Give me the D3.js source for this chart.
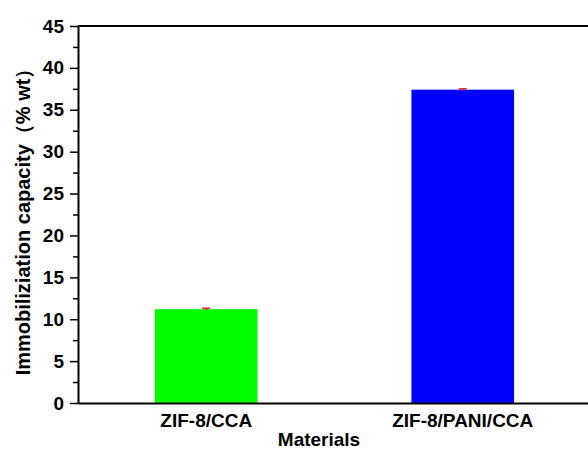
<!DOCTYPE html>
<html>
<head>
<meta charset="utf-8">
<script src="https://cdn.jsdelivr.net/npm/d3@7"></script>
<style>
  body { margin: 0; background: #fff; }
  text { font-family: "Liberation Sans", Arial, sans-serif; font-weight: bold; }
</style>
</head>
<body>
<div id="chart"></div>
<script>
const materials = ["ZIF-8/CCA", "ZIF-8/PANI/CCA"];
const capacity = [11.2, 37.4];
const capacityErr = [0.12, 0.1];
const barColors = ["#00ff00", "#0000ff"];
const yTicks = [0, 5, 10, 15, 20, 25, 30, 35, 40, 45];

const width = 588, height = 450;
const margin = { top: 26, right: 0, bottom: 47, left: 78 };
const font = "'Liberation Sans', Arial, sans-serif";

const svg = d3.select("#chart")
  .append("svg")
  .attr("width", width)
  .attr("height", height);

const x = d3.scaleBand()
  .domain(materials)
  .range([margin.left, 591])
  .paddingInner(0.6)
  .paddingOuter(0.3);

const y = d3.scaleLinear()
  .domain([0, 45])
  .range([height - margin.bottom, margin.top]);

// bars
svg.selectAll(".bar")
  .data(materials)
  .enter().append("rect")
  .attr("class", "bar")
  .attr("x", d => x(d))
  .attr("width", x.bandwidth())
  .attr("y", (d, i) => y(capacity[i]))
  .attr("height", (d, i) => y(0) - y(capacity[i]))
  .attr("fill", (d, i) => barColors[i]);

// error bars
const err = svg.selectAll(".err")
  .data(materials)
  .enter().append("g")
  .attr("class", "err")
  .attr("stroke", "#e0202a")
  .attr("stroke-width", 1.5);

err.append("line")
  .attr("x1", d => x(d) + x.bandwidth() / 2)
  .attr("x2", d => x(d) + x.bandwidth() / 2)
  .attr("y1", (d, i) => y(capacity[i] - capacityErr[i]))
  .attr("y2", (d, i) => y(capacity[i] + capacityErr[i]));

err.append("line")
  .attr("x1", d => x(d) + x.bandwidth() / 2 - 4)
  .attr("x2", d => x(d) + x.bandwidth() / 2 + 4)
  .attr("y1", (d, i) => y(capacity[i] + capacityErr[i]))
  .attr("y2", (d, i) => y(capacity[i] + capacityErr[i]));

// minor ticks
svg.append("g")
  .attr("transform", `translate(${margin.left},0)`)
  .call(d3.axisLeft(y).tickValues(d3.range(2.5, 45, 5)).tickSize(5).tickFormat(""))
  .call(g => g.select(".domain").remove())
  .call(g => g.selectAll(".tick line").attr("stroke", "#000").attr("stroke-width", 1.5));

// y axis
svg.append("g")
  .attr("class", "y axis")
  .attr("transform", `translate(${margin.left},0)`)
  .call(d3.axisLeft(y).tickValues(yTicks).tickSize(8).tickSizeOuter(0).tickPadding(6))
  .call(g => g.select(".domain").attr("stroke-width", 2))
  .call(g => g.selectAll(".tick line").attr("stroke-width", 1.5))
  .call(g => g.selectAll(".tick text")
    .attr("font-size", 19)
    .attr("font-weight", "bold")
    .attr("font-family", font)
    .attr("fill", "#000"));

// x axis
svg.append("g")
  .attr("class", "x axis")
  .attr("transform", `translate(0,${y(0)})`)
  .call(d3.axisBottom(x).tickSize(0).tickSizeOuter(0).tickPadding(11))
  .call(g => g.select(".domain").attr("stroke-width", 2))
  .call(g => g.selectAll(".tick text")
    .attr("font-size", 19)
    .attr("font-weight", "bold")
    .attr("font-family", font)
    .attr("fill", "#000"));

// top frame line
svg.append("line")
  .attr("x1", margin.left)
  .attr("x2", width)
  .attr("y1", y(45))
  .attr("y2", y(45))
  .attr("stroke", "#000")
  .attr("stroke-width", 2);

// axis titles
svg.append("text")
  .attr("x", 319)
  .attr("y", 446)
  .attr("text-anchor", "middle")
  .attr("font-size", 19)
  .text("Materials");

svg.append("text")
  .attr("transform", "translate(30,217) rotate(-90)")
  .attr("text-anchor", "middle")
  .attr("font-size", 20)
  .text("Immobiliziation capacity（% wt）");
</script>
</body>
</html>
